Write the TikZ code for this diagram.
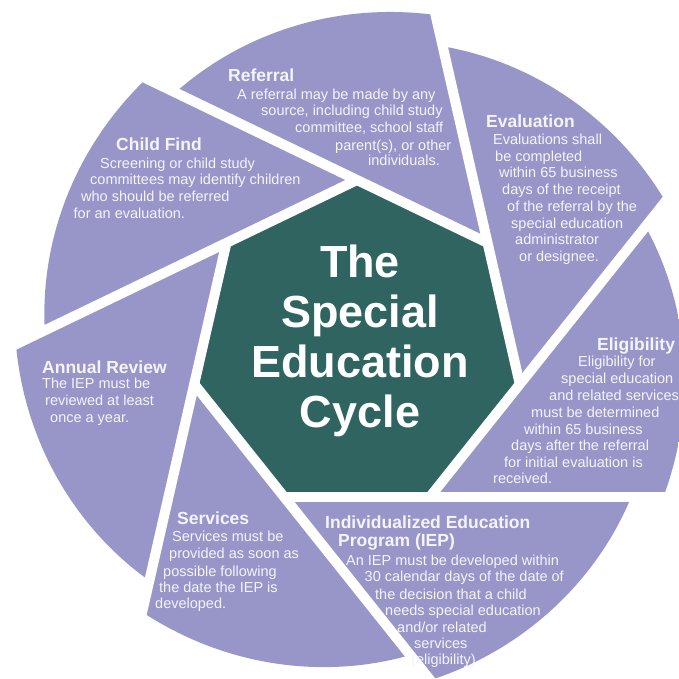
\documentclass[tikz,border=0pt]{standalone}
\usepackage{fontspec}
\setmainfont{Liberation Sans}
\usetikzlibrary{calc}
\definecolor{lav}{HTML}{9896C9}
\definecolor{hepta}{HTML}{2F6461}
\definecolor{txt}{HTML}{F4F4FA}
\begin{document}
\begin{tikzpicture}[x=1pt,y=-1pt,
  body/.style={anchor=base west, inner sep=0pt, text=txt, font=\fontsize{14.5}{17}\selectfont},
  ttl/.style={anchor=base west, inner sep=0pt, text=txt, font=\fontsize{17.5}{20}\selectfont\bfseries},
  big/.style={anchor=base, inner sep=0pt, text=white, font=\fontsize{45}{50}\selectfont\bfseries},
  gap/.style={white, line width=10pt}]
\useasboundingbox (0,0) rectangle (678,679);
\foreach \k in {0,...,6}
  \coordinate (V\k) at ({357+167*sin(\k*360/7)},{347-167*cos(\k*360/7)});
% blades: each outer edge widens from r=312 to r=342 (clockwise)
\foreach \k/\pk/\nk in {0/6/1,1/0/2,2/1/3,3/2/4,4/3/5,5/4/6,6/5/0} {
  \pgfmathsetmacro{\s}{178.1-51.4286*\k}
  \pgfmathsetmacro{\aA}{\s+12}
  \pgfmathsetmacro{\aB}{\s-63.43}
  \begin{scope}
    \clip plot[variable=\t, domain=0:1, samples=60]
      ({357+(312+30*(\s-(\aA+\t*(\aB-\aA)))/51.43)*cos(\aA+\t*(\aB-\aA))},
       {347-(312+30*(\s-(\aA+\t*(\aB-\aA)))/51.43)*sin(\aA+\t*(\aB-\aA))})
      -- plot[variable=\t, domain=0:1, samples=60]
      ({357+300*cos(\aB+\t*(\aA-360-\aB))},{347-300*sin(\aB+\t*(\aA-360-\aB))}) -- cycle;
    \fill[lav] (V\k) -- ($(V\k)!5!(V\pk)$) -- ($(V\nk)!6!(V\k)$) -- cycle;
  \end{scope}
}
\fill[hepta] (V0) -- (V1) -- (V2) -- (V3) -- (V4) -- (V5) -- (V6) -- cycle;
\foreach \k [evaluate=\k as \n using {int(mod(\k+1,7))}] in {0,...,6}
  \draw[gap] (V\n) -- ($(V\n)!4!(V\k)$);
% centre
\node[big] (c1) at (360,277) {The};
\node[big] (c2) at (360,327) {Special};
\node[big] (c3) at (360,377) {Education};
\node[big] (c4) at (360,427) {Cycle};
% Referral
\node[ttl] (refT) at (228,82) {Referral};
\foreach \x/\y/\s [count=\i] in {237/100/{A referral may be made by any},261/116/{source, including child study},295/133/{committee, school staff},335/150/{parent(s), or other},368/166/{individuals.}}
  \node[body] (ref\i) at (\x,\y) {\s};
% Child Find
\node[ttl] (cfT) at (116,150) {Child Find};
\foreach \x/\y/\s [count=\i] in {100/168/{Screening or child study},90/184/{committees may identify children},81/201/{who should be referred},73.5/218/{for an evaluation.}}
  \node[body] (cf\i) at (\x,\y) {\s};
% Evaluation
\node[ttl] (evT) at (486,128) {Evaluation};
\foreach \x/\y/\s [count=\i] in {493/145/{Evaluations shall},495/161.5/{be completed},499/178/{within 65 business},502/194/{days of the receipt},507/211.5/{of the referral by the},511/228/{special education},515/244/{administrator},519/261/{or designee.}}
  \node[body] (ev\i) at (\x,\y) {\s};
% Eligibility
\node[ttl] (elT) at (597,350) {Eligibility};
\foreach \x/\y/\s [count=\i] in {578/366/{Eligibility for},561/383/{special education},549/400/{and related services},531/417/{must be determined},524/434/{within 65 business},511/450/{days after the referral},504/467/{for initial evaluation is},493/483/{received.}}
  \node[body] (el\i) at (\x,\y) {\s};
% IEP
\node[ttl] (iepT1) at (325,528) {Individualized Education};
\node[ttl] (iepT2) at (338,546) {Program (IEP)};
\foreach \x/\y/\s [count=\i] in {346/565/{An IEP must be developed within},364.5/581/{30 calendar days of the date of},375/599/{the decision that a child},385/615/{needs special education},397/632/{and/or related},414/648/{services},411/664/{(eligibility)}}
  \node[body] (iep\i) at (\x,\y) {\s};
% Services
\node[ttl] (svT) at (177,524) {Services};
\foreach \x/\y/\s [count=\i] in {172/541/{Services must be},169/558/{provided as soon as},163/576/{possible following},159/592/{the date the IEP is},155/608/{developed.}}
  \node[body] (sv\i) at (\x,\y) {\s};
% Annual Review
\node[ttl] (arT) at (42,373) {Annual Review};
\foreach \x/\y/\s [count=\i] in {42/388.5/{The IEP must be},45/405/{reviewed at least},50/422/{once a year.}}
  \node[body] (ar\i) at (\x,\y) {\s};
\end{tikzpicture}
\end{document}
